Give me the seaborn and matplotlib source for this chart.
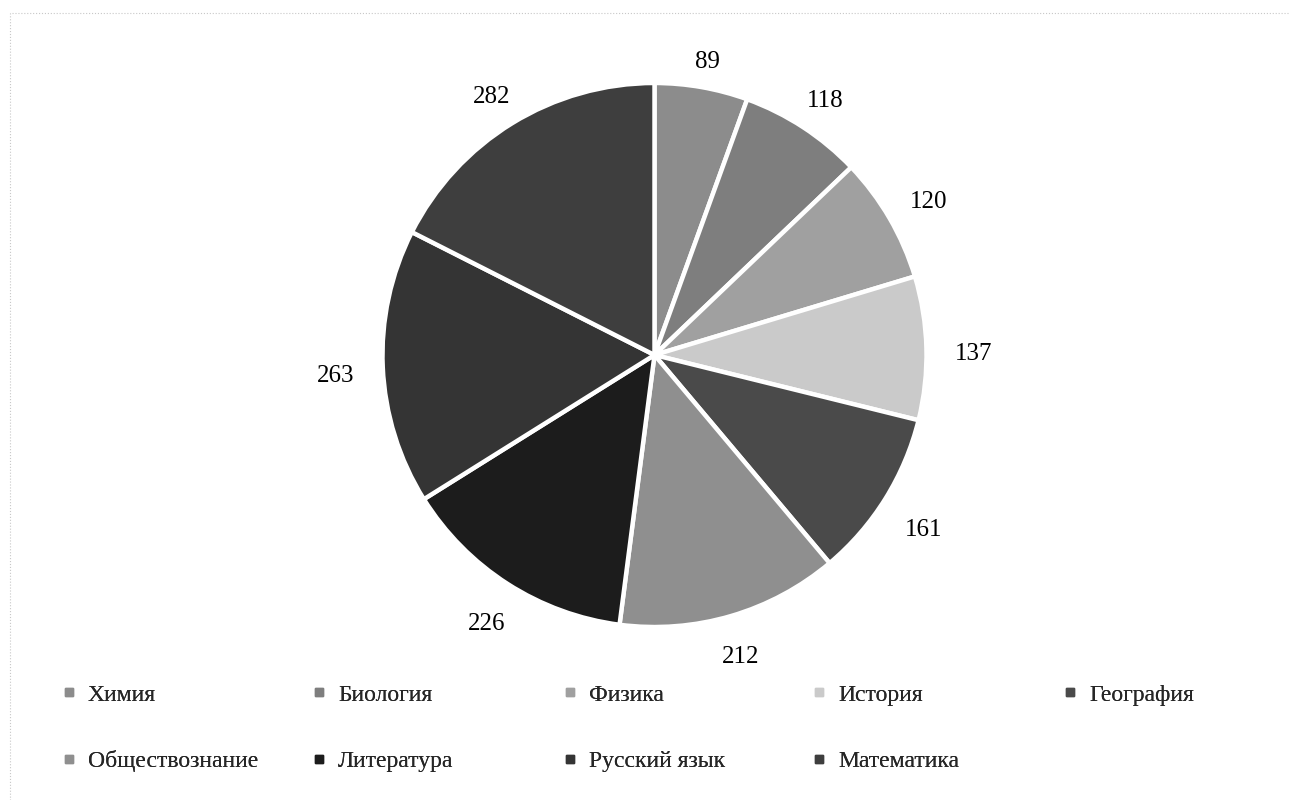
import numpy as np
import matplotlib.pyplot as plt
import seaborn as sns
from matplotlib.lines import Line2D
from matplotlib.patches import Rectangle

# data (clockwise from 12 o'clock)
subjects = ["Химия", "Биология", "Физика", "История", "География",
            "Обществознание", "Литература", "Русский язык", "Математика"]
counts = [89, 118, 120, 137, 161, 212, 226, 263, 282]
grays = ["#8c8c8c", "#7e7e7e", "#a0a0a0", "#cacaca", "#4a4a4a",
         "#8f8f8f", "#1c1c1c", "#343434", "#3e3e3e"]

sns.set_style("white")
plt.rcParams["font.family"] = ["Liberation Serif", "DejaVu Serif"]

W, H = 1290, 800
fig = plt.figure(figsize=(W / 100, H / 100), dpi=100)

# pie axes: centre ~ (654, 355) px, radius ~ 272 px
cx, cy, r = 654.5, 355, 272
ax = fig.add_axes([(cx - r) / W, (H - cy - r) / H, 2 * r / W, 2 * r / H])
wedges, _ = ax.pie(counts, colors=grays, startangle=90, counterclock=False,
                   radius=1, wedgeprops=dict(edgecolor="white", linewidth=3.2))
ax.set_xlim(-1, 1)
ax.set_ylim(-1, 1)
ax.set_aspect("equal")
ax.axis("off")

# value labels at "outside end": a bit further out on the sides than top/bottom
for w, val in zip(wedges, counts):
    ang = np.deg2rad((w.theta1 + w.theta2) / 2)
    ux, uy = np.cos(ang), np.sin(ang)
    d = 1.11 + 0.065 * abs(ux)
    ax.text(d * ux, d * uy - 0.026, str(val),
            ha="center", va="center", fontsize=18, color="black")

# legend: 5 equal-width columns, 2 rows, filled row-wise
handles = [Line2D([], [], linestyle="none", marker="s", markersize=6,
                  markerfacecolor=c, markeredgecolor=c) for c in grays]
col_x = [62, 312, 563, 812, 1063]
for j, x in enumerate(col_x):
    idx = [j, j + 5] if j + 5 < len(subjects) else [j]
    leg = fig.legend([handles[i] for i in idx], [subjects[i] for i in idx],
                     loc="upper left", bbox_to_anchor=(x / W, 1 - 684 / H),
                     frameon=False, fontsize=17, handlelength=0.6,
                     handletextpad=0.5, labelspacing=1.9, borderpad=0,
                     borderaxespad=0)
    fig.add_artist(leg)

# faint scanned frame (only top and left edges visible)
fig.add_artist(Rectangle((10 / W, -0.05), 1.1, 1.05 - 13 / H,
                         transform=fig.transFigure, fill=False,
                         edgecolor="#c8c8c8", linewidth=0.8, linestyle=":"))

fig.savefig("out.png", dpi=100)
